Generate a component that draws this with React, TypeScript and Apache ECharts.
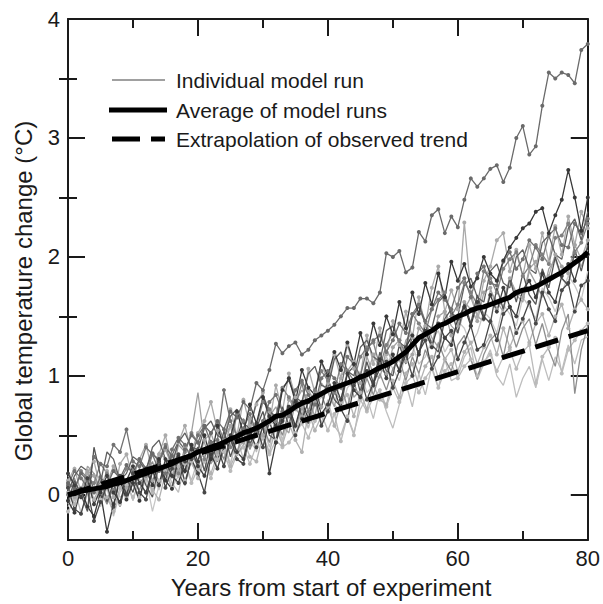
import React, { useEffect, useRef } from "react";
import * as echarts from "echarts";

const FONT = '"Liberation Sans", Arial, Helvetica, sans-serif';
const INK = "#1a1a1a";

const xTicks = [0, 20, 40, 60, 80];
const yTicks = [0, 1, 2, 3, 4];
const yMinorTicks = [0.5, 1.5, 2.5, 3.5];

const legendLabels = ["Individual model run", "Average of model runs", "Extrapolation of observed trend"];
const xTitle = "Years from start of experiment";
const yTitle = "Global temperature change (°C)";

// average of model runs, one value per year 0..80
const average = [
  0.00, 0.01, 0.03, 0.04, 0.05, 0.06, 0.07, 0.09, 0.10, 0.12,
  0.14, 0.16, 0.18, 0.20, 0.22, 0.24, 0.26, 0.29, 0.31, 0.33,
  0.36, 0.38, 0.40, 0.42, 0.44, 0.47, 0.49, 0.52, 0.54, 0.56,
  0.59, 0.62, 0.66, 0.67, 0.70, 0.74, 0.77, 0.79, 0.82, 0.85,
  0.88, 0.90, 0.92, 0.94, 0.96, 0.99, 1.01, 1.04, 1.07, 1.09,
  1.12, 1.16, 1.20, 1.26, 1.32, 1.35, 1.38, 1.42, 1.44, 1.47,
  1.50, 1.52, 1.55, 1.57, 1.58, 1.60, 1.62, 1.64, 1.66, 1.70,
  1.72, 1.73, 1.75, 1.78, 1.81, 1.84, 1.87, 1.91, 1.95, 1.99,
  2.04,
];

// extrapolation of observed trend (straight line)
const trendYears = [0, 80];
const trendValues = [0.0, 1.38];

// individual model runs, one value per year 0..80
const runA = [
  0.10, 0.05, 0.18, 0.12, 0.02, 0.15, 0.08, 0.20, 0.14, 0.25,
  0.18, 0.30, 0.22, 0.35, 0.28, 0.40, 0.33, 0.45, 0.38, 0.50,
  0.44, 0.58, 0.52, 0.62, 0.55, 0.70, 0.65, 0.78, 0.72, 0.94,
  0.88, 1.05, 1.27, 1.19, 1.25, 1.28, 1.18, 1.22, 1.30, 1.34,
  1.38, 1.43, 1.50, 1.57, 1.57, 1.65, 1.65, 1.61, 1.70, 2.03,
  2.00, 2.05, 1.87, 1.91, 2.21, 2.13, 2.35, 2.40, 2.20, 2.34,
  2.25, 2.48, 2.66, 2.59, 2.66, 2.74, 2.77, 2.63, 2.75, 3.00,
  3.10, 2.86, 2.93, 3.27, 3.55, 3.50, 3.55, 3.53, 3.46, 3.74,
  3.79,
];
const runB = [
  -0.05, -0.15, 0.05, -0.10, -0.18, 0.02, -0.31, -0.08, 0.12, -0.04,
  0.10, -0.05, 0.22, 0.08, 0.30, 0.12, 0.05, 0.32, 0.20, 0.42,
  0.28, 0.50, 0.30, 0.58, 0.40, 0.48, 0.70, 0.52, 0.76, 0.60,
  0.82, 0.66, 0.58, 0.88, 0.98, 0.78, 1.05, 0.90, 0.84, 1.12,
  1.00, 1.20, 1.05, 1.28, 1.10, 1.36, 1.18, 1.44, 1.26, 1.50,
  1.35, 1.62, 1.40, 1.70, 1.52, 1.78, 1.60, 1.86, 1.66, 1.96,
  1.80, 1.94, 1.75, 1.82, 2.00, 1.86, 1.80, 1.97, 2.08, 2.16,
  2.24, 2.28, 2.38, 2.41, 2.20, 2.35, 2.48, 2.73, 2.50, 2.22,
  2.50,
];
const runC = [
  0.12, 0.22, 0.02, 0.18, 0.28, 0.06, 0.20, -0.02, 0.26, 0.34,
  0.14, 0.30, 0.42, 0.20, 0.34, 0.50, 0.26, 0.44, 0.58, 0.36,
  0.52, 0.62, 0.78, 0.54, 0.46, 0.72, 0.50, 0.80, 0.58, 0.76,
  0.86, 0.60, 0.92, 0.70, 1.02, 0.82, 0.74, 1.06, 0.86, 1.12,
  0.94, 1.18, 0.98, 1.26, 1.06, 1.00, 1.34, 1.10, 1.40, 1.18,
  1.46, 1.26, 1.54, 1.32, 1.66, 1.42, 1.74, 1.92, 1.54, 1.72,
  1.56, 2.29, 1.70, 1.50, 1.80, 1.92, 2.14, 2.20, 1.88, 2.06,
  1.84, 2.10, 1.90, 2.20, 1.96, 2.26, 2.02, 2.34, 2.10, 2.38,
  2.24,
];
const runD = [
  -0.08, 0.05, -0.15, 0.00, 0.10, -0.10, 0.06, -0.18, 0.02, 0.12,
  -0.05, 0.14, 0.00, 0.20, 0.04, 0.24, 0.10, 0.02, 0.28, 0.12,
  0.30, 0.14, 0.38, 0.22, 0.44, 0.26, 0.48, 0.30, 0.54, 0.36,
  0.58, 0.40, 0.64, 0.46, 0.70, 0.48, 0.74, 0.56, 0.78, 0.60,
  0.80, 0.58, 0.50, 0.66, 0.52, 0.72, 0.82, 0.64, 0.88, 0.70,
  0.56, 0.76, 0.94, 0.74, 1.02, 0.84, 1.08, 0.90, 1.14, 0.96,
  0.99, 1.16, 1.24, 0.97, 1.10, 1.22, 1.00, 0.92, 1.10, 0.82,
  0.98, 1.08, 0.90, 1.14, 0.96, 1.16, 1.04, 1.26, 1.10, 1.30,
  1.33,
];
const runE = [
  0.06, -0.12, -0.16, 0.04, -0.22, -0.06, 0.08, -0.10, 0.16, 0.00,
  0.18, 0.02, -0.04, 0.20, 0.28, 0.06, 0.22, 0.34, 0.10, 0.30,
  0.18, 0.02, 0.32, 0.40, 0.24, 0.48, 0.30, 0.26, 0.50, 0.58,
  0.40, 0.62, 0.44, 0.66, 0.74, 0.50, 0.64, 0.78, 0.84, 0.58,
  0.70, 0.88, 0.72, 0.62, 0.92, 1.00, 0.80, 0.94, 1.06, 1.12,
  0.90, 1.04, 1.18, 1.00, 1.20, 1.30, 1.06, 1.16, 1.32, 1.38,
  1.14, 1.28, 1.42, 1.22, 1.26, 1.46, 1.30, 1.52, 1.58, 1.36,
  1.48, 1.62, 1.44, 1.70, 1.56, 1.46, 1.72, 1.78, 1.54, 1.76,
  1.80,
];
const runF = [
  0.00, 0.04, 0.20, 0.14, 0.10, 0.26, 0.18, 0.04, 0.12, 0.22,
  0.20, 0.10, 0.16, 0.34, 0.30, 0.42, 0.24, 0.18, 0.36, 0.52,
  0.44, 0.30, 0.52, 0.60, 0.46, 0.40, 0.68, 0.62, 0.42, 0.58,
  0.78, 0.72, 0.62, 0.90, 0.82, 0.74, 0.94, 0.70, 0.88, 1.04,
  0.96, 0.86, 1.10, 1.04, 0.96, 1.16, 1.24, 1.28, 1.08, 1.26,
  1.36, 1.30, 1.18, 1.52, 1.44, 1.36, 1.56, 1.64, 1.70, 1.50,
  1.60, 1.78, 1.70, 1.60, 1.88, 1.82, 1.70, 1.90, 1.98, 2.04,
  1.84, 1.92, 2.10, 2.02, 1.94, 2.16, 2.18, 2.28, 2.04, 2.12,
  2.28,
];
const runG = [
  0.16, 0.10, 0.02, 0.24, 0.18, -0.04, 0.08, 0.22, 0.14, 0.02,
  0.18, 0.28, 0.20, 0.08, 0.36, 0.30, 0.14, 0.42, 0.36, 0.52,
  0.86, 0.44, 0.26, 0.36, 0.48, 0.58, 0.34, 0.42, 0.62, 0.54,
  0.46, 0.66, 0.74, 0.58, 0.52, 0.78, 0.88, 0.80, 0.66, 0.94,
  0.86, 0.74, 1.00, 1.06, 0.82, 0.88, 1.16, 1.02, 0.98, 1.22,
  1.12, 1.06, 1.30, 1.36, 1.18, 1.46, 1.32, 1.24, 1.54, 1.42,
  1.36, 1.56, 1.66, 1.50, 1.46, 1.72, 1.62, 1.54, 1.82, 1.68,
  1.62, 1.88, 1.78, 1.66, 1.90, 1.98, 1.82, 1.76, 2.04, 1.92,
  2.06,
];
const runH = [
  -0.06, 0.12, 0.00, -0.14, 0.40, 0.16, -0.06, 0.10, -0.10, 0.14,
  0.02, 0.22, 0.08, -0.02, 0.26, 0.12, 0.34, 0.18, 0.08, 0.32,
  0.40, 0.20, 0.46, 0.28, 0.54, 0.32, 0.48, 0.64, 0.42, 0.56,
  0.70, 0.50, 0.46, 0.74, 0.58, 0.84, 0.66, 0.60, 0.90, 0.72,
  0.98, 0.80, 0.74, 1.02, 1.08, 0.86, 1.12, 0.94, 1.20, 1.04,
  1.00, 1.26, 1.10, 1.34, 1.18, 1.44, 1.26, 1.20, 1.48, 1.56,
  1.36, 1.62, 1.44, 1.68, 1.50, 1.44, 1.74, 1.56, 1.82, 1.62,
  1.86, 1.68, 1.60, 1.90, 1.74, 2.00, 1.82, 1.76, 2.06, 1.88,
  2.10,
];
const runI = [
  0.02, -0.08, 0.06, 0.12, -0.04, 0.08, -0.02, -0.14, 0.06, -0.02,
  0.10, -0.02, 0.14, 0.04, -0.04, 0.18, 0.06, 0.24, 0.12, 0.28,
  0.14, 0.30, 0.18, 0.34, 0.42, 0.24, 0.36, 0.46, 0.32, 0.28,
  0.50, 0.36, 0.56, 0.42, 0.60, 0.46, 0.36, 0.70, 0.54, 0.66,
  0.74, 0.58, 0.78, 0.84, 0.66, 0.86, 0.72, 0.92, 0.80, 0.76,
  0.96, 0.82, 1.02, 1.10, 0.92, 1.08, 1.16, 0.98, 1.14, 1.22,
  1.04, 1.20, 1.28, 1.10, 1.24, 1.34, 1.18, 1.40, 1.24, 1.38,
  1.46, 1.28, 1.44, 1.52, 1.34, 1.50, 1.60, 1.40, 1.56, 1.64,
  1.56,
];
const runJ = [
  0.08, 0.20, 0.14, 0.06, 0.32, 0.26, 0.24, 0.42, 0.36, 0.55,
  0.28, 0.24, 0.40, 0.34, 0.20, 0.18, 0.38, 0.48, 0.42, 0.30,
  0.50, 0.58, 0.44, 0.46, 0.88, 0.62, 0.50, 0.56, 0.68, 0.52,
  0.62, 0.78, 0.84, 0.70, 0.66, 0.88, 0.96, 0.84, 0.76, 0.98,
  1.04, 0.98, 0.90, 1.16, 1.10, 1.00, 1.22, 1.30, 1.34, 1.20,
  1.30, 1.44, 1.36, 1.52, 1.60, 1.46, 1.56, 1.70, 1.64, 1.56,
  1.74, 1.82, 1.66, 1.86, 1.92, 1.78, 1.76, 1.96, 2.04, 1.90,
  1.98, 2.14, 2.08, 1.98, 2.18, 2.24, 2.10, 2.08, 2.28, 2.20,
  2.32,
];
const runK = [
  -0.10, 0.00, 0.06, 0.08, -0.06, 0.04, 0.12, 0.10, -0.02, 0.02,
  0.12, 0.22, 0.14, -0.14, 0.08, 0.28, 0.22, 0.14, 0.34, 0.26,
  0.18, 0.32, 0.46, 0.38, 0.30, 0.26, 0.48, 0.56, 0.44, 0.38,
  0.52, 0.62, 0.58, 0.44, 0.68, 0.74, 0.66, 0.56, 0.76, 0.82,
  0.88, 0.76, 0.70, 0.90, 0.96, 1.04, 0.86, 0.92, 1.08, 1.16,
  1.06, 0.96, 1.20, 1.26, 1.10, 1.16, 1.30, 1.38, 1.20, 1.30,
  1.46, 1.40, 1.26, 1.36, 1.54, 1.48, 1.36, 1.60, 1.52, 1.42,
  1.66, 1.58, 1.48, 1.74, 1.66, 1.54, 1.70, 1.84, 1.76, 1.64,
  1.88,
];
const runL = [
  0.18, 0.08, -0.02, 0.14, -0.08, 0.04, 0.16, 0.02, -0.06, 0.12,
  0.24, 0.10, 0.02, 0.20, 0.08, 0.30, 0.16, 0.10, 0.28, 0.38,
  0.24, 0.16, 0.34, 0.22, 0.40, 0.50, 0.36, 0.30, 0.52, 0.40,
  0.58, 0.18, 0.44, 0.62, 0.74, 0.58, 0.78, 0.64, 0.84, 0.68,
  0.76, 0.94, 0.80, 1.02, 0.88, 0.82, 1.04, 0.92, 1.14, 0.98,
  1.18, 1.04, 1.24, 1.34, 1.18, 1.38, 1.24, 1.44, 1.32, 1.26,
  1.48, 1.58, 1.42, 1.62, 1.48, 1.68, 1.54, 1.74, 1.58, 1.50,
  1.72, 1.80, 1.66, 1.86, 1.70, 1.62, 1.84, 1.94, 1.80, 2.00,
  2.02,
];
const runM = [
  0.04, 0.14, -0.02, 0.10, 0.18, 0.04, -0.08, 0.08, 0.16, 0.00,
  0.12, 0.04, 0.18, 0.28, 0.10, 0.22, 0.14, 0.28, 0.18, 0.34,
  0.24, 0.38, 0.28, 0.42, 0.30, 0.46, 0.36, 0.52, 0.38, 0.52,
  0.58, 0.44, 0.64, 0.50, 0.70, 0.56, 0.74, 0.60, 0.78, 0.84,
  0.70, 0.86, 0.92, 0.74, 0.94, 0.80, 0.98, 0.84, 1.02, 0.88,
  1.06, 1.14, 0.96, 1.16, 1.02, 1.22, 1.08, 1.28, 1.14, 1.04,
  1.26, 1.34, 1.14, 0.97, 1.18, 1.30, 1.36, 1.16, 1.42, 1.24,
  1.40, 1.48, 1.26, 1.44, 1.22, 1.08, 1.38, 1.52, 0.85, 1.22,
  1.42,
];
const runN = [
  0.06, -0.02, 0.04, 0.20, 0.16, 0.02, 0.10, 0.24, 0.14, 0.06,
  0.16, 0.30, 0.22, 0.12, 0.28, 0.38, 0.24, 0.20, 0.40, 0.34,
  0.28, 0.46, 0.52, 0.36, 0.40, 0.58, 0.50, 0.44, 0.64, 0.56,
  0.50, 0.70, 0.62, 0.58, 0.80, 0.72, 0.66, 0.88, 0.78, 0.74,
  0.94, 0.86, 0.80, 1.04, 1.12, 0.94, 1.00, 1.18, 1.06, 1.02,
  1.24, 1.30, 1.12, 1.18, 1.40, 1.34, 1.26, 1.50, 1.54, 1.34,
  1.42, 1.62, 1.56, 1.46, 1.70, 1.74, 1.56, 1.64, 1.82, 1.70,
  1.66, 1.90, 1.96, 1.78, 1.84, 2.02, 1.92, 1.86, 2.10, 1.98,
  2.14,
];
const runO = [
  0.02, 0.16, 0.24, 0.20, 0.04, 0.10, 0.36, 0.30, 0.12, 0.18,
  0.32, 0.28, 0.20, 0.40, 0.46, 0.30, 0.26, 0.44, 0.52, 0.40,
  0.38, 0.56, 0.62, 0.50, 0.46, 0.66, 0.72, 0.60, 0.56, 0.78,
  0.84, 0.70, 0.66, 0.90, 0.96, 0.82, 0.78, 1.02, 1.08, 0.92,
  0.90, 1.14, 1.20, 1.04, 1.00, 1.24, 1.30, 1.16, 1.12, 1.38,
  1.42, 1.28, 1.24, 1.50, 1.58, 1.44, 1.40, 1.62, 1.68, 1.52,
  1.50, 1.76, 1.82, 1.66, 1.62, 1.88, 1.94, 1.78, 1.74, 2.00,
  2.06, 1.90, 1.86, 2.12, 2.18, 2.02, 1.98, 2.24, 2.32, 2.14,
  2.38,
];
const runP = [
  -0.14, -0.04, 0.04, -0.10, 0.06, -0.04, 0.10, -0.02, -0.08, 0.08,
  -0.02, 0.10, 0.16, 0.02, 0.12, 0.20, 0.06, 0.16, 0.26, 0.10,
  0.22, 0.28, 0.14, 0.30, 0.36, 0.20, 0.34, 0.40, 0.26, 0.42,
  0.48, 0.34, 0.46, 0.40, 0.44, 0.52, 0.60, 0.48, 0.62, 0.68,
  0.54, 0.68, 0.45, 0.66, 0.50, 0.80, 0.70, 0.82, 0.88, 0.74,
  0.90, 0.78, 0.94, 1.00, 0.86, 0.98, 1.06, 0.90, 1.04, 1.10,
  0.98, 1.08, 1.14, 1.00, 1.12, 1.18, 1.04, 1.16, 1.22, 1.06,
  1.20, 1.26, 0.94, 1.16, 1.24, 1.32, 1.02, 1.22, 1.30, 1.38,
  1.44,
];

const runs = [runK, runD, runP, runI, runG, runC, runN, runM, runF, runJ, runA, runO, runH, runE, runL, runB];
const runColors = ["#c6c6c6", "#bebebe", "#bababa", "#b2b2b2", "#a0a0a0", "#aaaaaa", "#a4a4a4", "#8e8e8e", "#808080", "#727272", "#6a6a6a", "#606060", "#545454", "#474747", "#3e3e3e", "#383838"];
const runMarkers = [false, false, true, true, false, true, true, false, true, true, true, false, false, true, true, true];

function toPoints(values: number[]): number[][] {
  return values.map((v, i) => [i, v]);
}

export default function App() {
  const ref = useRef<HTMLDivElement>(null);

  useEffect(() => {
    document.body.style.margin = "0";
    if (!ref.current) return;
    const chart = echarts.init(ref.current, undefined, { renderer: "svg" });

    const axisLine = { show: true, onZero: false, lineStyle: { color: INK, width: 2 } };
    const tickStyle = { color: INK, width: 2 };
    const labelStyle = { fontSize: 22, color: INK, fontFamily: FONT, margin: 7 };

    const xBase = (position: "bottom" | "top", showLabel: boolean) => ({
      type: "value" as const,
      position,
      min: 0,
      max: 80,
      interval: 20,
      axisLine,
      axisTick: { show: true, inside: true, length: 17, lineStyle: tickStyle },
      minorTick: { show: true, splitNumber: 2, length: 9, lineStyle: tickStyle },
      axisLabel: { show: showLabel, ...labelStyle, formatter: (v: number) => (xTicks.includes(v) ? String(v) : "") },
      splitLine: { show: false },
      minorSplitLine: { show: false },
    });

    const yBase = (position: "left" | "right", major: boolean, showLabel: boolean) => ({
      type: "value" as const,
      position,
      min: -0.38,
      max: 4,
      axisLine: major ? axisLine : { show: false },
      axisTick: {
        show: true,
        inside: true,
        length: major ? 17 : 9,
        lineStyle: tickStyle,
        customValues: major ? yTicks : yMinorTicks,
      },
      axisLabel: { show: showLabel, ...labelStyle, margin: 8, customValues: yTicks, formatter: (v: number) => String(v) },
      splitLine: { show: false },
    });

    const runSeries = runs.map((r, k) => ({
      type: "line" as const,
      data: toPoints(r),
      xAxisIndex: 0,
      yAxisIndex: 0,
      showSymbol: runMarkers[k],
      symbol: "circle",
      symbolSize: 4,
      lineStyle: { color: runColors[k], width: 1.3 },
      itemStyle: { color: runColors[k] },
      z: 2,
      silent: true,
    }));

    const legendY = [80, 110, 139];

    chart.setOption({
      animation: false,
      backgroundColor: "#ffffff",
      grid: { left: 68, right: 12, top: 19, bottom: 64, containLabel: false },
      xAxis: [xBase("bottom", true), xBase("top", false)],
      yAxis: [yBase("left", true, true), yBase("left", false, false), yBase("right", true, false), yBase("right", false, false)],
      series: [
        ...runSeries,
        {
          type: "line",
          data: trendYears.map((x, i) => [x, trendValues[i]]),
          showSymbol: false,
          lineStyle: { color: "#000000", width: 5, type: [24, 11] },
          z: 3,
          silent: true,
        },
        {
          type: "line",
          data: toPoints(average),
          showSymbol: false,
          lineStyle: { color: "#000000", width: 5, join: "round" },
          z: 4,
          silent: true,
        },
      ],
      graphic: [
        { type: "line", shape: { x1: 112, y1: legendY[0], x2: 165, y2: legendY[0] }, style: { stroke: "#808080", lineWidth: 1.5 } },
        { type: "line", shape: { x1: 109, y1: legendY[1], x2: 167, y2: legendY[1] }, style: { stroke: "#000000", lineWidth: 5 } },
        { type: "line", shape: { x1: 112, y1: legendY[2], x2: 165, y2: legendY[2] }, style: { stroke: "#000000", lineWidth: 5, lineDash: [28, 11] } },
        ...legendLabels.map((t, i) => ({
          type: "text",
          x: 176,
          y: legendY[i],
          style: { text: t, fontSize: 21, fontFamily: FONT, fill: INK, align: "left", verticalAlign: "middle" },
        })),
        {
          type: "text",
          x: 331,
          y: 587,
          style: { text: xTitle, fontSize: 24, fontFamily: FONT, fill: INK, align: "center", verticalAlign: "middle" },
        },
        {
          type: "text",
          x: 23,
          y: 291,
          rotation: Math.PI / 2,
          style: { text: yTitle, fontSize: 24, fontFamily: FONT, fill: INK, align: "center", verticalAlign: "middle" },
        },
      ],
    });

    return () => chart.dispose();
  }, []);

  return <div ref={ref} style={{ position: "fixed", left: 0, top: 0, width: 603, height: 604 }} />;
}
